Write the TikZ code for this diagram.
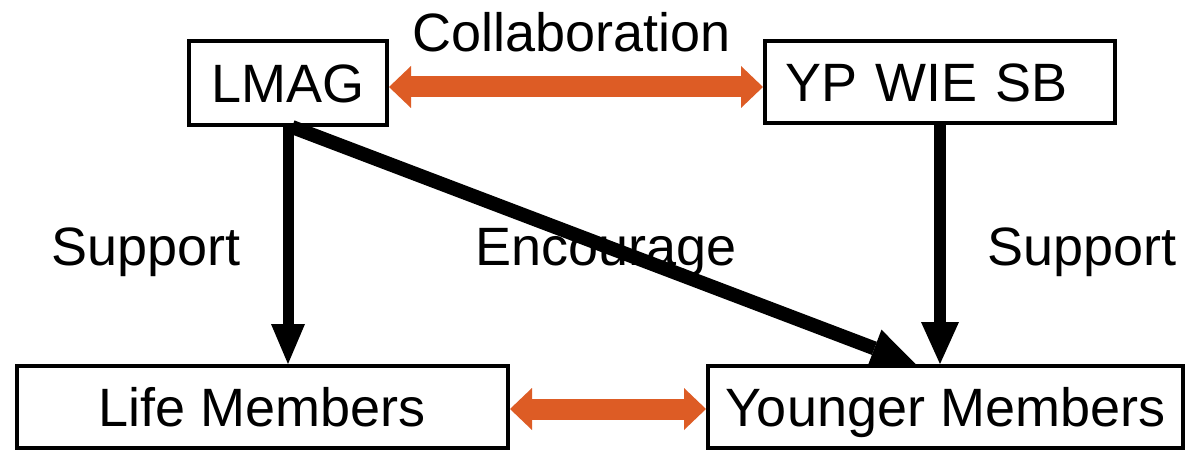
\documentclass[tikz,border=0pt]{standalone}
\usepackage{fontspec}
\setmainfont{Liberation Sans}
\usetikzlibrary{arrows.meta}
\definecolor{orng}{RGB}{221,92,37}
\begin{document}
\begin{tikzpicture}[x=1pt,y=-1pt,
  box/.style={draw=black, line width=4pt, fill=white, inner sep=0pt,
    text height=39pt, text depth=0pt, font=\fontsize{54}{60}\selectfont},
  lbl/.style={anchor=base, inner sep=0pt, font=\fontsize{54}{60}\selectfont},
  blk/.style={draw=black, line cap=butt},
  orarrow/.style={draw=orng, line cap=butt, line width=21pt,
    {Triangle[width=42pt,length=22pt,line width=0pt]}-{Triangle[width=42pt,length=22pt,line width=0pt]}}
]
\useasboundingbox (0,0) rectangle (1187,452);
\fill[white] (0,0) rectangle (1187,452);

\node[box, minimum width=198pt, minimum height=84pt] (lmag) at (288,83) {LMAG};
\node[box, minimum width=350pt, minimum height=82pt, text width=310pt, align=left, inner xsep=20pt] (yp) at (940,82) {YP WIE SB};
\node[box, minimum width=491pt, minimum height=82pt] (life) at (262.5,407) {Life Members};
\node[box, minimum width=475pt, minimum height=82pt] (young) at (945.5,407) {Younger Members};

\node[lbl] (collab) at (572,52) {Collaboration};
\node[lbl] (supl) at (146,265) {Support};
\node[lbl] (enc) at (606,265) {Encourage};
\node[lbl] (supr) at (1082,265) {Support};

% orange double arrows
\path (lmag.east) ++(0,4) coordinate (oa1);
\path (yp.west |- oa1) coordinate (oa2);
\draw[orarrow] (oa1) -- (oa2);
\path (life.east) ++(0,2) coordinate (ob1);
\path (young.west |- ob1) coordinate (ob2);
\draw[orarrow] (ob1) -- (ob2);

% black arrows
\draw[blk, line width=11pt, -{Triangle[width=34pt,length=40pt,line width=0pt]}]
  (lmag.south) -- (lmag.south |- life.north);
\draw[blk, line width=12pt, -{Triangle[width=38pt,length=42pt,line width=0pt]}]
  (yp.south) -- (yp.south |- young.north);
\draw[blk, line width=14pt, -{Triangle[width=40pt,length=44pt,line width=0pt]}]
  ([xshift=4pt]lmag.south) -- ([xshift=-30pt]young.north);
\end{tikzpicture}
\end{document}
